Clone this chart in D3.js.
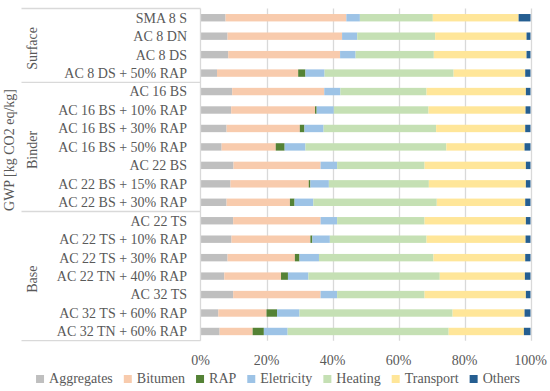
<!DOCTYPE html>
<html>
<head>
<meta charset="utf-8">
<script src="https://cdn.jsdelivr.net/npm/d3@7"></script>
<style>
  html, body { margin: 0; padding: 0; background: #fff; }
  svg text { font-family: "Liberation Serif", "Times New Roman", serif; }
</style>
</head>
<body>
<svg id="chart" width="550" height="391" font-family="Liberation Serif, serif"></svg>
<script>
// ---------- data ----------
const categories = [
  "SMA 8 S", "AC 8 DN", "AC 8 DS", "AC 8 DS + 50% RAP",
  "AC 16 BS", "AC 16 BS + 10% RAP", "AC 16 BS + 30% RAP", "AC 16 BS + 50% RAP",
  "AC 22 BS", "AC 22 BS + 15% RAP", "AC 22 BS + 30% RAP",
  "AC 22 TS", "AC 22 TS + 10% RAP", "AC 22 TS + 30% RAP", "AC 22 TN + 40% RAP",
  "AC 32 TS", "AC 32 TS + 60% RAP", "AC 32 TN + 60% RAP"
];
const groupNames = ["Surface", "Binder", "Base"];
const groupSizes = [4, 7, 7];

const seriesNames = ["Aggregates", "Bitumen", "RAP", "Eletricity", "Heating", "Transport", "Others"];
const aggregates = [7.6, 8.2, 8.4, 5.0, 9.6, 9.3, 7.9, 6.4, 10.0, 9.1, 7.9, 9.9, 9.4, 8.2, 7.2, 9.9, 5.4, 5.8];
const bitumen    = [36.6, 34.7, 33.9, 24.6, 27.9, 25.4, 22.2, 16.4, 26.4, 23.7, 19.2, 26.5, 23.9, 20.4, 17.2, 26.5, 14.6, 10.0];
const rap        = [0, 0, 0, 2.2, 0, 0.5, 1.4, 2.7, 0, 0.5, 1.4, 0, 0.6, 1.4, 2.1, 0, 3.2, 3.4];
const electricity= [4.1, 4.6, 4.7, 5.8, 4.9, 5.2, 5.8, 6.3, 5.0, 5.6, 5.7, 5.0, 5.3, 5.9, 6.2, 5.0, 6.8, 7.2];
const heating    = [22.1, 23.6, 23.7, 39.1, 26.1, 28.7, 34.1, 42.7, 26.5, 30.3, 37.4, 26.5, 29.3, 34.7, 39.8, 26.5, 46.4, 48.8];
const transport  = [26.0, 27.7, 28.1, 21.7, 30.1, 29.4, 27.0, 23.7, 30.7, 29.4, 26.8, 30.7, 30.0, 27.8, 25.8, 30.7, 21.8, 22.8];
const others     = [3.6, 1.2, 1.2, 1.6, 1.4, 1.5, 1.6, 1.8, 1.4, 1.4, 1.6, 1.4, 1.5, 1.6, 1.7, 1.4, 1.8, 2.0];
const xTicks = [0, 20, 40, 60, 80, 100];
const yTitle = "GWP [kg CO2 eq/kg]";

const colors = ["#BFBFBF", "#F8CBAD", "#548235", "#9DC3E6", "#C5E0B4", "#FFE699", "#255E91"];

// ---------- build table ----------
const seriesValues = [aggregates, bitumen, rap, electricity, heating, transport, others];
const table = categories.map((c, i) => {
  const row = { category: c };
  seriesNames.forEach((s, k) => { row[s] = seriesValues[k][i]; });
  return row;
});
const stacked = d3.stack().keys(seriesNames).offset(d3.stackOffsetExpand)(table);

// ---------- layout ----------
const svg = d3.select("#chart");
const FONT = "Liberation Serif, serif";
const textColor = "#595959";
const lineColor = "#D9D9D9";
const plotLeft = 200.5, plotRight = 530.5, plotTop = 8.5, plotBottom = 340.7;

const x = d3.scaleLinear().domain([0, 1]).range([plotLeft, plotRight]);
const y = d3.scaleBand().domain(categories).range([plotTop, plotBottom]).padding(0);
const barH = 7.4;

// gridlines
svg.append("g").selectAll("line").data(xTicks.filter(t => t > 0)).join("line")
  .attr("x1", d => Math.round(x(d / 100)) + 0.5).attr("x2", d => Math.round(x(d / 100)) + 0.5)
  .attr("y1", plotTop).attr("y2", plotBottom)
  .attr("stroke", lineColor).attr("stroke-width", 1.3);

// bars
svg.append("g").selectAll("g").data(stacked).join("g")
  .attr("fill", (d, i) => colors[i])
  .selectAll("rect").data(d => d).join("rect")
  .attr("x", d => x(d[0]))
  .attr("width", d => Math.max(0, x(d[1]) - x(d[0])))
  .attr("y", d => y(d.data.category) + (y.bandwidth() - barH) / 2)
  .attr("height", barH);

// category axis line
svg.append("line")
  .attr("x1", plotLeft).attr("x2", plotLeft)
  .attr("y1", plotTop).attr("y2", plotBottom)
  .attr("stroke", lineColor).attr("stroke-width", 1.3);

// group separators
let boundaries = [0];
groupSizes.reduce((acc, s) => { boundaries.push(acc + s); return acc + s; }, 0);
const boundaryY = b => (b < categories.length ? y(categories[b]) : plotBottom);
svg.append("g").selectAll("line").data(boundaries).join("line")
  .attr("x1", 21.5).attr("x2", plotLeft)
  .attr("y1", d => boundaryY(d)).attr("y2", d => boundaryY(d))
  .attr("stroke", lineColor).attr("stroke-width", 1.3);

// category labels
svg.append("g").selectAll("text").data(categories).join("text")
  .attr("x", 187)
  .attr("y", d => y(d) + y.bandwidth() / 2)
  .attr("dy", "0.35em")
  .attr("text-anchor", "end")
  .attr("font-family", FONT)
  .attr("font-size", 14)
  .attr("fill", textColor)
  .text(d => d);

// group labels
svg.append("g").selectAll("text").data(groupNames).join("text")
  .attr("transform", (d, i) => {
    const cy = (boundaryY(boundaries[i]) + boundaryY(boundaries[i + 1])) / 2 + 3;
    return `translate(37,${cy}) rotate(-90)`;
  })
  .attr("text-anchor", "middle")
  .attr("font-family", FONT)
  .attr("font-size", 14)
  .attr("fill", textColor)
  .text(d => d);

// y title
svg.append("text")
  .attr("transform", "translate(14,150) rotate(-90)")
  .attr("text-anchor", "middle")
  .attr("font-family", FONT)
  .attr("font-size", 14)
  .attr("fill", textColor)
  .text(yTitle);

// x tick labels
svg.append("g").selectAll("text").data(xTicks).join("text")
  .attr("x", d => x(d / 100))
  .attr("y", 365)
  .attr("text-anchor", "middle")
  .attr("font-family", FONT)
  .attr("font-size", 14)
  .attr("fill", textColor)
  .text(d => d + "%");

// legend
const legend = svg.append("g");
const items = legend.selectAll("g").data(seriesNames).join("g");
items.append("rect").attr("width", 8).attr("height", 8).attr("y", 375)
  .attr("fill", (d, i) => colors[i]);
items.append("text").attr("x", 13).attr("y", 383)
  .attr("font-family", FONT)
  .attr("font-size", 14).attr("fill", textColor).text(d => d);
const widths = [];
items.each(function () {
  widths.push(13 + this.querySelector("text").getComputedTextLength());
});
const gap = 11;
const total = d3.sum(widths) + gap * (widths.length - 1);
let cx = 275 - total / 2 + 3;
items.attr("transform", (d, i) => {
  const t = `translate(${cx},0)`;
  cx += widths[i] + gap;
  return t;
});
</script>
</body>
</html>
